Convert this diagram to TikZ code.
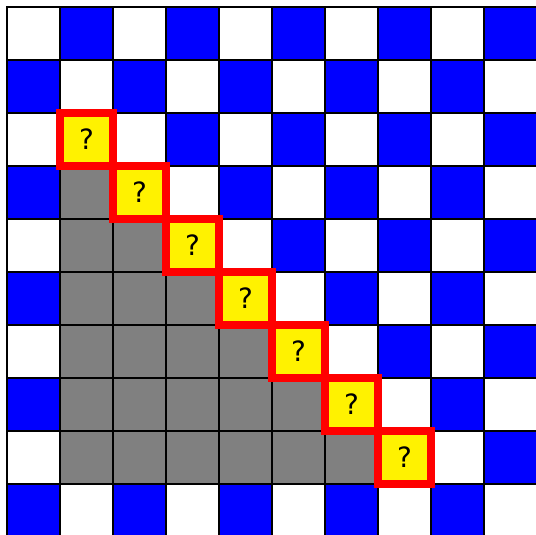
\documentclass[tikz,border=0pt]{standalone}
\usepackage{fontspec}
\setmainfont{DejaVu Sans}
\begin{document}
\begin{tikzpicture}[x=1cm,y=1cm,
  cell/.style={draw=black,line width=1.1pt},
  qcell/.style={draw=red,line width=3.8pt,fill=yellow,minimum size=1cm,inner sep=0pt,font=\fontsize{15}{18}\selectfont}]
\useasboundingbox (-0.132,0.132) rectangle (9.981,-9.962);
\clip (-0.132,0.132) rectangle (9.981,-9.962);
\fill[white] (-0.132,0.132) rectangle (9.981,-9.962);
\foreach \r in {0,...,9}{
  \foreach \c in {0,...,9}{
    \pgfmathtruncatemacro{\p}{mod(\r+\c,2)}
    \ifnum\p=1
      \fill[blue] (\c,-\r) rectangle ++(1,-1);
    \fi
  }
}
\foreach \r in {3,...,8}{
  \pgfmathtruncatemacro{\m}{\r-2}
  \foreach \c in {1,...,\m}{
    \fill[gray] (\c,-\r) rectangle ++(1,-1);
  }
}
\foreach \i in {0,...,10}{
  \draw[cell,line cap=rect] (\i,0) -- (\i,-10);
  \draw[cell,line cap=rect] (0,-\i) -- (10,-\i);
}
\foreach \r in {2,...,8}{
  \pgfmathtruncatemacro{\c}{\r-1}
  \node[qcell] (q\r) at (\c+0.5,-\r-0.5) {?};
}
\end{tikzpicture}
\end{document}
